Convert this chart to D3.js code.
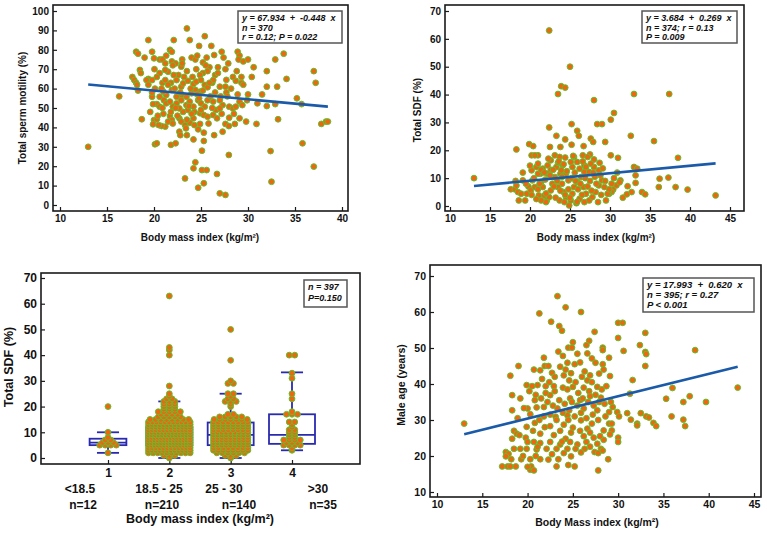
<!DOCTYPE html>
<html><head><meta charset="utf-8">
<script src="https://cdn.jsdelivr.net/npm/d3@7"></script>
<style>
body{margin:0;background:#fff}
svg{display:block}
text{font-family:"Liberation Sans",Arial,sans-serif;}
</style></head><body>
<svg id="c" width="767" height="535"></svg>
<script>
// ---------------- DATA ----------------
// Panel A: BMI vs total sperm motility (%)
const motilityPoints = [
[13,30],[16.3,56],[23.5,91],[19.4,85],[22.1,85],[23.8,85],[25.4,87],[24.8,82],[26.1,82],[18.1,79],[18.3,78],[19.8,79],[21.7,80],[21.9,79],
[19,76],[21.3,77],[20.6,75],[20,75.6],[20.9,75],[21.9,74],[22.3,73],[23,75],[24,76],[24.4,75],[24.6,77],[25.6,76],[25.2,73.5],[25.9,71],
[26.4,77.3],[27.2,79],[27.4,76],[27.9,73],[26.8,71],[28.9,79],[29.1,77],[29,75],[29.5,74],[30,75],[30.6,71],[32,69],[32.9,75],[33.8,78],
[37,69],[37.2,63],[34.1,65],[33.1,61],[32,61],[31.5,57],[30,57],[30.4,66],[29.3,63],[28.7,64],[28.4,66],[27.7,64.5],[27.6,61],[27.7,58],
[27.1,56],[27,54],[27.3,51.5],[26.5,67],[26.2,63],[25.7,69],[25.2,68],[24.9,67],[23.5,69],[22.9,71.3],[22.6,67],[22.1,67],[21.5,68.7],
[21.2,69.6],[20.6,68],[20.05,70],[19.4,65],[19.2,64.4],[18.5,69.6],[18.6,68],[17.7,66],[17.9,64.4],[18.1,63],[18.2,62],[18.3,59],[19.8,64.4],
[20.1,60],[20.9,63],[21.2,64.4],[21.8,63],[22.4,64.4],[22.9,61],[23.1,62.7],[23.6,64],[24.2,62.4],[24.5,63.6],[25,64.4],[25.4,61.9],[25.7,60.7],
[26.3,64.4],[24.9,58.4],[24.4,59.3],[24,57.6],[23.45,55.8],[22.9,56.7],[22.4,55.8],[21.9,59.3],[21.3,56.7],[21,58.4],[20.6,55.8],[19.8,55.8],
[19.8,58],[20.3,52],[20.6,50.7],[21.05,54],[21.3,52.4],[21.7,53.3],[22.4,52.4],[22,50.7],[22.9,54],[23.45,51.5],[23.8,53.3],[24.2,50.7],[24.7,54],
[25,52.4],[25.4,50.7],[25.7,54],[26.3,53.3],[26.6,49],[27,49.8],[28,50.7],[28.4,49.8],[28.7,50.7],[29.1,53.3],[29.4,51.5],[29.9,54],[31,52.4],
[32,51],[32.9,52],[35.2,55],[35.7,52],[23.6,49],[23.1,48],[22.7,49.8],[24.3,48],[24.9,47.3],[25.3,46.4],[25.7,45.5],[26.3,46.4],[26.7,44.7],
[22.7,44.7],[22.9,43],[23.3,41.2],[23.8,42.4],[24.3,41.2],[24.9,41.8],[24.2,44.7],[21.7,45.9],[21.9,43.8],[21.5,43],[22,42],[21.2,40.4],[20.8,40.7],
[20.5,41.2],[20,43.8],[20.3,44.2],[18.7,44.2],[19.9,41.6],[27.6,41.8],[27.96,40.7],[28.6,41.8],[29.1,44.7],[29.8,43],[30.9,41.8],[33.2,44.2],
[37.8,41.8],[38.3,43],[23.4,39.5],[22.7,37.8],[22.8,36],[25.3,37.3],[24.7,39],[26.4,36],[27.3,37.8],[24.2,33.8],[23.5,36],[25.3,33],[20.1,31.3],
[20.3,31.8],[21.8,31],[22.3,31.8],[35.8,31.8],[25.1,28],[27.96,25.8],[32.4,27.8],[24.4,22],[24.2,18.9],[25.1,18],[25.6,18],[37,19.8],[26.7,16],
[23.3,13.7],[25.3,11.2],[32.5,12],[24.7,8.9],[27,6],[27.6,5.2],
[21.5,62],[22.2,60],[22.8,58],[23.2,66],[23.9,60],[24.1,66],[24.6,57],[25.2,59],[25.9,63],[26.5,58],[27,61],[27.8,56],[28.2,60],[28.9,57],
[29.5,62],[21,47],[21.8,48],[22.5,46],[23.5,44],[24,47],[25,49],[25.8,42],[26.2,50],[27.2,47],[28,45],[28.5,47],[20.4,46],[19.6,48],[20.8,60],
[19.4,62],[22,72],[23,73],[24.5,70],[25.5,72],[26.8,68],[27.6,70],[21.2,73],[20.3,66],[28.8,69],[29.3,66],[23.7,51],[22.3,50],[24.8,55],[26,56],
[20.9,50],[19.9,52],[38.5,43]
];
// Panel B: BMI vs total SDF (%)
const sdfPoints = [
[13,10],[22.4,63],[25,50],[23.9,43],[24.4,42.5],[23.5,40.2],[28,38],[33,40.2],[37.4,40.2],[30.5,33.4],[30.1,31],[29,29.4],[28.4,29.4],[25.2,29.4],
[22.4,28.2],[25.9,27],[26.1,25.2],[23.3,25.2],[32.6,25.2],[24.4,23.9],[27.6,24.2],[27.9,23],[29.4,23],[35.5,23.3],[22.5,21.2],[23.8,21.2],
[25.2,22],[26.7,21.5],[19.9,22.2],[20.4,21.5],[18.3,20.3],[21,18.2],[20.2,18.2],[20.6,18.2],[23.1,18.2],[23.7,17.6],[24.4,17.4],[25.5,17.6],
[26.6,18.2],[30.1,18.2],[31,17.3],[38.5,17.3],[27.5,18.5],[27.2,17.6],[28,16.7],[28.7,15.5],[33,14],[33.4,13.4],[33.2,11],[33.2,8.3],[31.3,9.2],
[32.2,7.1],[32.7,5],[32.1,4.2],[31.6,3],[34,5],[34.4,4.2],[36.1,6.8],[36.2,9.8],[37.3,10.2],[38.2,6.8],[39.7,5.9],[43.2,3.8],[30.8,7.4],
[30.4,5.9],[30.2,5],[29.9,4.4],
[17.6,6],[18.1,6],[18.3,7.4],[18.5,5],[18.6,2],[18.9,4.4],[19.1,9.2],[19.1,12],[19.4,2],[19.6,4.4],[19.8,7],[20.1,5.6],[20.3,9.2],[20.2,12.8],
[20.8,14],[21,15.2],[21.3,11.6],[21.4,8.6],[21.6,6.8],[21.8,3.8],[22.1,2],[22,1.4],[22.4,3.2],[22.6,5.6],[22.8,8],[23.1,10.4],[23.3,14],
[23.5,15.5],[22.6,13],[22.2,11.6],[23.8,11.6],[24,8],[24.2,5],[24.5,3.2],[24.9,0.2],[25.1,2],[25.8,1],[25.3,4.4],[25.5,6.8],[25.9,8.6],
[26.4,10.4],[26.8,12.2],[26.2,13.4],[25.3,14],[24.5,11.6],[24.8,9.2],[26.7,6.8],[27,4.4],[27.4,2],[27.8,3.2],[28.2,5],[28.6,7.4],[29,9.2],
[29.3,6.8],[29.7,4.4],[28.5,1.4],[27.4,12.2],[28,14],[28.6,12.8],[27.6,15.2],[26.8,14.6],[25.9,15.8],[25.1,15.8],[24.1,14.6],[22.2,14.6],
[22.6,16.4],[21.6,13.4],[21,11.6],[20.6,6.8],[21.1,3.8],[21.4,2],[23.5,6.8],[23.7,2],[24.3,1.4],[26.2,2.6],[26.8,1.4],
[20.5,10],[21.2,8],[21.9,9.5],[22.5,11],[23,7],[23.4,9],[24,10.5],[24.6,12.5],[25.2,10],[25.7,9],[26.3,8],[26.9,10],[27.5,9],[28.1,10.5],
[28.8,11],[29.4,9],[29.9,6],[30.2,8],[20,14.5],[21.4,13],[22.9,13],[23.9,12.8],[25.6,12],[27,14],[27.9,12],[29.1,13.5],[24.4,4],[25,3],
[26.5,4],[23.2,3],[22,4.5],[21,6],[19.5,8],[18.2,9],[20.8,2.5],[26,6],[27.2,7],[28.9,4],[29.5,2],[30.5,10],[30.9,12],[31.2,8.5],[23.6,16],
[24.2,15],[25.4,18],[26.6,16],[22.3,17],[21.8,12],[25.9,1.5],[24.8,6],[23.8,5.5],[27.7,5.5],[28.3,8],[20.2,4]
];
// Panel D: BMI vs male age (years)
const agePoints = [
[13,29],[23.3,64.4],[24.2,61.3],[25.9,60],[21.3,59.6],[22.6,57.3],[23.5,56.1],[23.8,54.8],[30,57],[30.5,57],[27.4,54.5],[33,54.2],[30,52.8],
[26.8,52],[25,51.6],[32.4,50.8],[24.5,50.1],[24.9,50.1],[26.5,50.8],[28.3,50.1],[28.3,49.4],[30.6,49.2],[33,48.9],[33.1,48.3],[38.5,49.4],
[23.4,49],[25.5,48.4],[26.6,48.5],[27.1,47.1],[29,47.3],[21.8,47.3],[27.5,45.9],[24.4,45.9],[21.9,45],[19,45],[33,45],[28.3,45.5],[23.6,44.8],
[25.2,45.5],[21.4,43.8],[28.4,44],[22.7,43.1],[26.9,42.4],[27.9,42.9],[29.1,42.2],[24.8,43],[24,42.4],[18.1,42.3],[21.6,41.4],[26,42],
[26.6,41],[31.6,41.1],[19.9,39.7],[20.5,39.4],[21.1,39.7],[22,39.4],[22.9,39.4],[23.9,39],[25,39.2],[26.2,39],[27.7,39.2],[28.7,39.4],[36,38.9],
[18.3,36.9],[37.9,36.6],[31.3,37.3],[35.3,35.9],[37.2,35],[39.7,35],[20.8,35.5],[22.5,36.9],[24.7,36],[25.8,35.5],[26.9,36.6],[28.1,36.2],
[29.2,35],[29.4,33.6],[20,33.2],[18.3,32.7],[21.8,33.6],[23.3,33.2],[24.6,32.7],[26.2,33.2],[27.7,32.7],[29,32.2],[29.9,32.2],[31,31.9],
[32.5,31.9],[33.1,31],[33.4,30.7],[35.9,31],[37.2,30.1],[30.1,31],[31.4,30.1],[20.3,31.6],[21.8,31],[23.1,30.9],[24.4,31.3],[25.9,29.9],
[27.1,29],[29,29],[29.3,29],[32.1,29],[32.1,28.5],[33.9,29.2],[34.2,28.3],[37.4,28.3],[20.8,29.2],[19.9,28.1],[22.5,28.3],[24,28.7],[25,27.9],
[26.6,27.6],[28.4,27.1],[29.3,27.1],[18.5,27],[18.8,26.2],[19.1,25.8],[18.3,24.8],[19.8,25.1],[21.4,26.2],[22.9,25.8],[24.2,24.8],[26.2,25.5],
[27.3,25.1],[28.4,24.5],[30,25.1],[30,23.9],[20,23.9],[20.7,23.9],[21.4,23.6],[22.5,23.9],[23.6,23.2],[24.7,23.9],[25.5,23.2],[26.5,23.9],
[27.7,23.4],[19.2,22],[18.5,22],[19.9,22],[21,21.8],[22.1,22],[23.2,22],[24.4,22],[25.3,22],[26.3,22],[28.1,22],[27.4,21.1],[27.8,20.8],
[17.6,21.1],[17.9,20.6],[17.6,19.9],[18.2,19.1],[19.3,19.1],[20.3,19.1],[21.4,19.1],[23.4,19.1],[24.8,19.9],[24,20.8],[28.9,19.1],[17.2,17.1],
[17.8,17.1],[18.1,17.1],[18.7,17.1],[23.2,17.1],[25.2,17.1],[20.3,16.2],[20.4,17.1],[20.7,16],[27.8,16],
[22.2,35],[22.8,34],[23.5,35.5],[24.1,34.5],[24.9,35],[25.5,34],[26.1,36],[26.7,35],[27.3,34],[27.9,35],[28.5,34.5],[22.5,31.5],[23.2,30],
[23.9,32],[24.5,30],[25.2,31],[25.9,32],[26.5,30.5],[27.2,31.5],[27.8,30],[28.6,31],[22,37.5],[23,38],[24.4,38.5],[25.6,37.5],[26.8,38],
[27.5,37],[28.2,38.5],[21.5,36],[21,33.5],[21.3,30],[20.6,27],[21.9,28],[23.6,27],[24.8,26.5],[25.8,27],[26.9,26.5],[28,25.5],[29.1,26],
[23,42],[24.6,41],[25.3,40.5],[26.3,43.5],[27.1,40.5],[22.4,40.5],[20.2,38],[20.9,37],[19.6,33.3],[19.2,36],[18.9,30.5],[24.2,44],[25.8,46],
[23.9,47.8],[22.3,45],[20.7,44],[21.1,22.5],[22.7,20.5],[23.8,24],[25.9,21],[26.9,22.6],[28.3,21.5],[19.5,20],[20.9,20],[22.3,19],[24.5,17.5],
[20,17],[43.2,39]
];
// Panel C: SDF by BMI category  (value : count of dots)
const catLabels = ["<18.5","18.5 - 25","25 - 30",">30"];
const catN = ["n=12","n=210","n=140","n=35"];
const catSdf = [
  [[2,1],[5,4],[6,3],[7,2],[8,1],[10,1],[20,1]],
  [[0,1],[1,3],[2,10],[3,12],[4,12],[5,14],[6,14],[7,14],[8,14],[9,13],[10,13],[11,12],[12,12],[13,12],[14,11],[15,8],[16,5],[17,4],[18,5],
   [19,3],[20,3],[21,3],[22,3],[23,2],[24,1],[25,1],[28,1],[40,1],[42,1],[43,1],[63,1]],
  [[0,1],[1,3],[2,6],[3,8],[4,8],[5,9],[6,9],[7,9],[8,9],[9,9],[10,9],[11,8],[12,8],[13,8],[14,8],[15,7],[16,5],[17,2],[20,1],[21,1],[22,3],
   [23,2],[24,1],[25,2],[29,2],[30,1],[38,1],[50,1]],
  [[3,1],[4,1],[5,4],[6,3],[7,4],[8,2],[9,2],[10,2],[11,2],[12,1],[13,1],[14,2],[17,3],[18,1],[23,1],[25,1],[31,1],[33,1],[40,2]]
];
const boxQ1 = [5,5,5,5.5];
const boxMedian = [6,8.5,9,9];
const boxQ3 = [7.5,12,13.8,17];
const boxLow = [2,0,0,3];
const boxHigh = [10,22,25,33.3];
// Tick values
const ticksMotility = [0,10,20,30,40,50,60,70,80,90,100];
const ticksBmiA = [10,15,20,25,30,35,40];
const ticksSdf = [0,10,20,30,40,50,60,70];
const ticksBmiB = [10,15,20,25,30,35,40,45];
const ticksAge = [10,20,30,40,50,60,70];
const ticksCat = [1,2,3,4];
// Regression / legend texts
const regA = {a:67.934,b:-0.448, lines:["y = 67.934  +  -0.448  x","n = 370","r = 0.12; P = 0.022"]};
const regB = {a:3.684,b:0.269, lines:["y = 3.684  +  0.269  x","n = 374; r = 0.13","P = 0.009"]};
const regD = {a:17.993,b:0.620, lines:["y = 17.993  +  0.620  x","n = 395; r = 0.27","P < 0.001"]};
const legC = ["n = 397","P=0.150"];

// ---------------- DRAW ----------------
const svg = d3.select("#c");
const FONT = '"Liberation Sans",Arial,sans-serif';
const ORANGE = "#ee6610", GREEN = "#62c02c", LINEBLUE = "#1a5aa8", BOXBLUE = "#2a2aae";

function frameAndAxes(g, f, x, y, xt, yt, fs) {
  g.append("rect").attr("x",f.x0).attr("y",f.y0).attr("width",f.x1-f.x0).attr("height",f.y1-f.y0)
    .attr("fill","none").attr("stroke","#1a1a1a").attr("stroke-width",1.6);
  const ya = g.append("g").attr("transform",`translate(${f.x0},0)`)
    .call(d3.axisLeft(y).tickValues(yt).tickSize(-4).tickPadding(4).tickFormat(d3.format("d")));
  const xa = g.append("g").attr("transform",`translate(0,${f.y1})`)
    .call(d3.axisBottom(x).tickValues(xt).tickSize(-4).tickPadding(4).tickFormat(d3.format("d")));
  [ya,xa].forEach(a=>{
    a.select(".domain").remove();
    a.selectAll(".tick line").attr("stroke","#1a1a1a").attr("stroke-width",1.2);
    a.selectAll(".tick text").attr("font-family",FONT).attr("font-weight","bold").attr("font-size",fs).attr("fill","#111");
  });
}

function legend(g, box, lines, fs, lh) {
  g.append("rect").attr("x",box.x).attr("y",box.y).attr("width",box.w).attr("height",box.h)
    .attr("fill","#fff").attr("stroke","#555").attr("stroke-width",1.5);
  lines.forEach((t,i)=>{
    g.append("text").attr("x",box.x+4).attr("y",box.y+box.fy+i*lh).text(t)
      .attr("font-family",FONT).attr("font-style","italic").attr("font-weight","bold")
      .attr("font-size",fs).attr("fill","#111").attr("xml:space","preserve").style("white-space","pre");
  });
}

function title(g, t, xx, yy, fs, rot) {
  g.append("text").attr("transform",`translate(${xx},${yy})${rot?" rotate(-90)":""}`)
    .attr("text-anchor","middle").attr("dominant-baseline","middle")
    .attr("font-family",FONT).attr("font-weight","bold").attr("font-size",fs).attr("fill","#111").text(t);
}

function dots(g, data, x, y) {
  g.append("g").selectAll("circle").data(data).join("circle")
    .attr("cx",d=>x(d[0])).attr("cy",d=>y(d[1])).attr("r",2.9)
    .attr("fill",ORANGE).attr("stroke",GREEN).attr("stroke-width",1.0);
}

function regLine(g, data, reg, x, y) {
  const ext = d3.extent(data, d=>d[0]);
  g.append("line").attr("x1",x(ext[0])).attr("y1",y(reg.a+reg.b*ext[0]))
    .attr("x2",x(ext[1])).attr("y2",y(reg.a+reg.b*ext[1]))
    .attr("stroke",LINEBLUE).attr("stroke-width",2.6);
}

// Panel A
{
  const f = {x0:53,x1:348,y0:5,y1:211};
  const x = d3.scaleLinear().domain([10,40]).range([60,342]);
  const y = d3.scaleLinear().domain([0,100]).range([205,11]);
  const g = svg.append("g");
  frameAndAxes(g,f,x,y,ticksBmiA,ticksMotility,10);
  dots(g,motilityPoints,x,y);
  regLine(g,motilityPoints,regA,x,y);
  legend(g,{x:238,y:11,w:104,h:32,fy:10},regA.lines,9,9.5);
  title(g,"Total sperm motility (%)",23,108,10,true);
  title(g,"Body mass index (kg/m²)",200,238,10,false);
}
// Panel B
{
  const f = {x0:445,x1:744,y0:5,y1:211};
  const x = d3.scaleLinear().domain([10,45]).range([450,730]);
  const y = d3.scaleLinear().domain([0,70]).range([206,11]);
  const g = svg.append("g");
  frameAndAxes(g,f,x,y,ticksBmiB,ticksSdf,10);
  dots(g,sdfPoints,x,y);
  regLine(g,sdfPoints,regB,x,y);
  legend(g,{x:642,y:11,w:95,h:32,fy:10},regB.lines,9,9.5);
  title(g,"Total SDF (%)",418,110,10,true);
  title(g,"Body mass index (kg/m²)",596,238,10,false);
}
// Panel C
{
  const f = {x0:41,x1:360,y0:273,y1:464};
  const x = d3.scaleLinear().domain([1,4]).range([108,292]);
  const y = d3.scaleLinear().domain([0,70]).range([458,278]);
  const g = svg.append("g");
  frameAndAxes(g,f,x,y,ticksCat,ticksSdf,12);
  const boxHalf = [0.3,0.375,0.375,0.375], capHalf = 0.18;
  ticksCat.forEach((c,i)=>{
    const bg = g.append("g").attr("stroke",BOXBLUE).attr("stroke-width",1.8).attr("fill","none");
    bg.append("line").attr("x1",x(c)).attr("x2",x(c)).attr("y1",y(boxLow[i])).attr("y2",y(boxQ1[i]));
    bg.append("line").attr("x1",x(c)).attr("x2",x(c)).attr("y1",y(boxQ3[i])).attr("y2",y(boxHigh[i]));
    bg.append("line").attr("x1",x(c-capHalf)).attr("x2",x(c+capHalf)).attr("y1",y(boxLow[i])).attr("y2",y(boxLow[i]));
    bg.append("line").attr("x1",x(c-capHalf)).attr("x2",x(c+capHalf)).attr("y1",y(boxHigh[i])).attr("y2",y(boxHigh[i]));
    bg.append("rect").attr("x",x(c-boxHalf[i])).attr("width",x(c+boxHalf[i])-x(c-boxHalf[i]))
      .attr("y",y(boxQ3[i])).attr("height",y(boxQ1[i])-y(boxQ3[i]));
    bg.append("line").attr("x1",x(c-boxHalf[i])).attr("x2",x(c+boxHalf[i])).attr("y1",y(boxMedian[i])).attr("y2",y(boxMedian[i]));
  });
  // strip points: equal values spread side by side (in category units)
  const maxHalf = [0.2,0.34,0.28,0.2];
  const strip = [];
  catSdf.forEach((groups,i)=>{
    groups.forEach(([v,k])=>{
      const sp = k>1 ? Math.min(0.09, 2*maxHalf[i]/(k-1)) : 0;
      for(let j=0;j<k;j++) strip.push([ticksCat[i]+(j-(k-1)/2)*sp, v]);
    });
  });
  dots(g,strip,x,y);
  legend(g,{x:304,y:280,w:43,h:27,fy:10},legC,9,10.5);
  title(g,"Total SDF (%)",10,367,12.5,true);
  catLabels.forEach((t,i)=>title(g,t,[80,159,224,318][i],490,12,false));
  catN.forEach((t,i)=>title(g,t,[83,162,239,323][i],506,12,false));
  title(g,"Body mass index (kg/m²)",200,520,12.5,false);
}
// Panel D
{
  const f = {x0:430,x1:761,y0:265,y1:497};
  const x = d3.scaleLinear().domain([10,45]).range([437,754]);
  const y = d3.scaleLinear().domain([10,70]).range([492,276]);
  const g = svg.append("g");
  frameAndAxes(g,f,x,y,ticksBmiB,ticksAge,10.5);
  dots(g,agePoints,x,y);
  regLine(g,agePoints,regD,x,y);
  legend(g,{x:643,y:278,w:111,h:34,fy:10},regD.lines,9.5,9.8);
  title(g,"Male age (years)",402,385,10.5,true);
  title(g,"Body Mass index (kg/m²)",597,523,10.5,false);
}
</script>
</body></html>
